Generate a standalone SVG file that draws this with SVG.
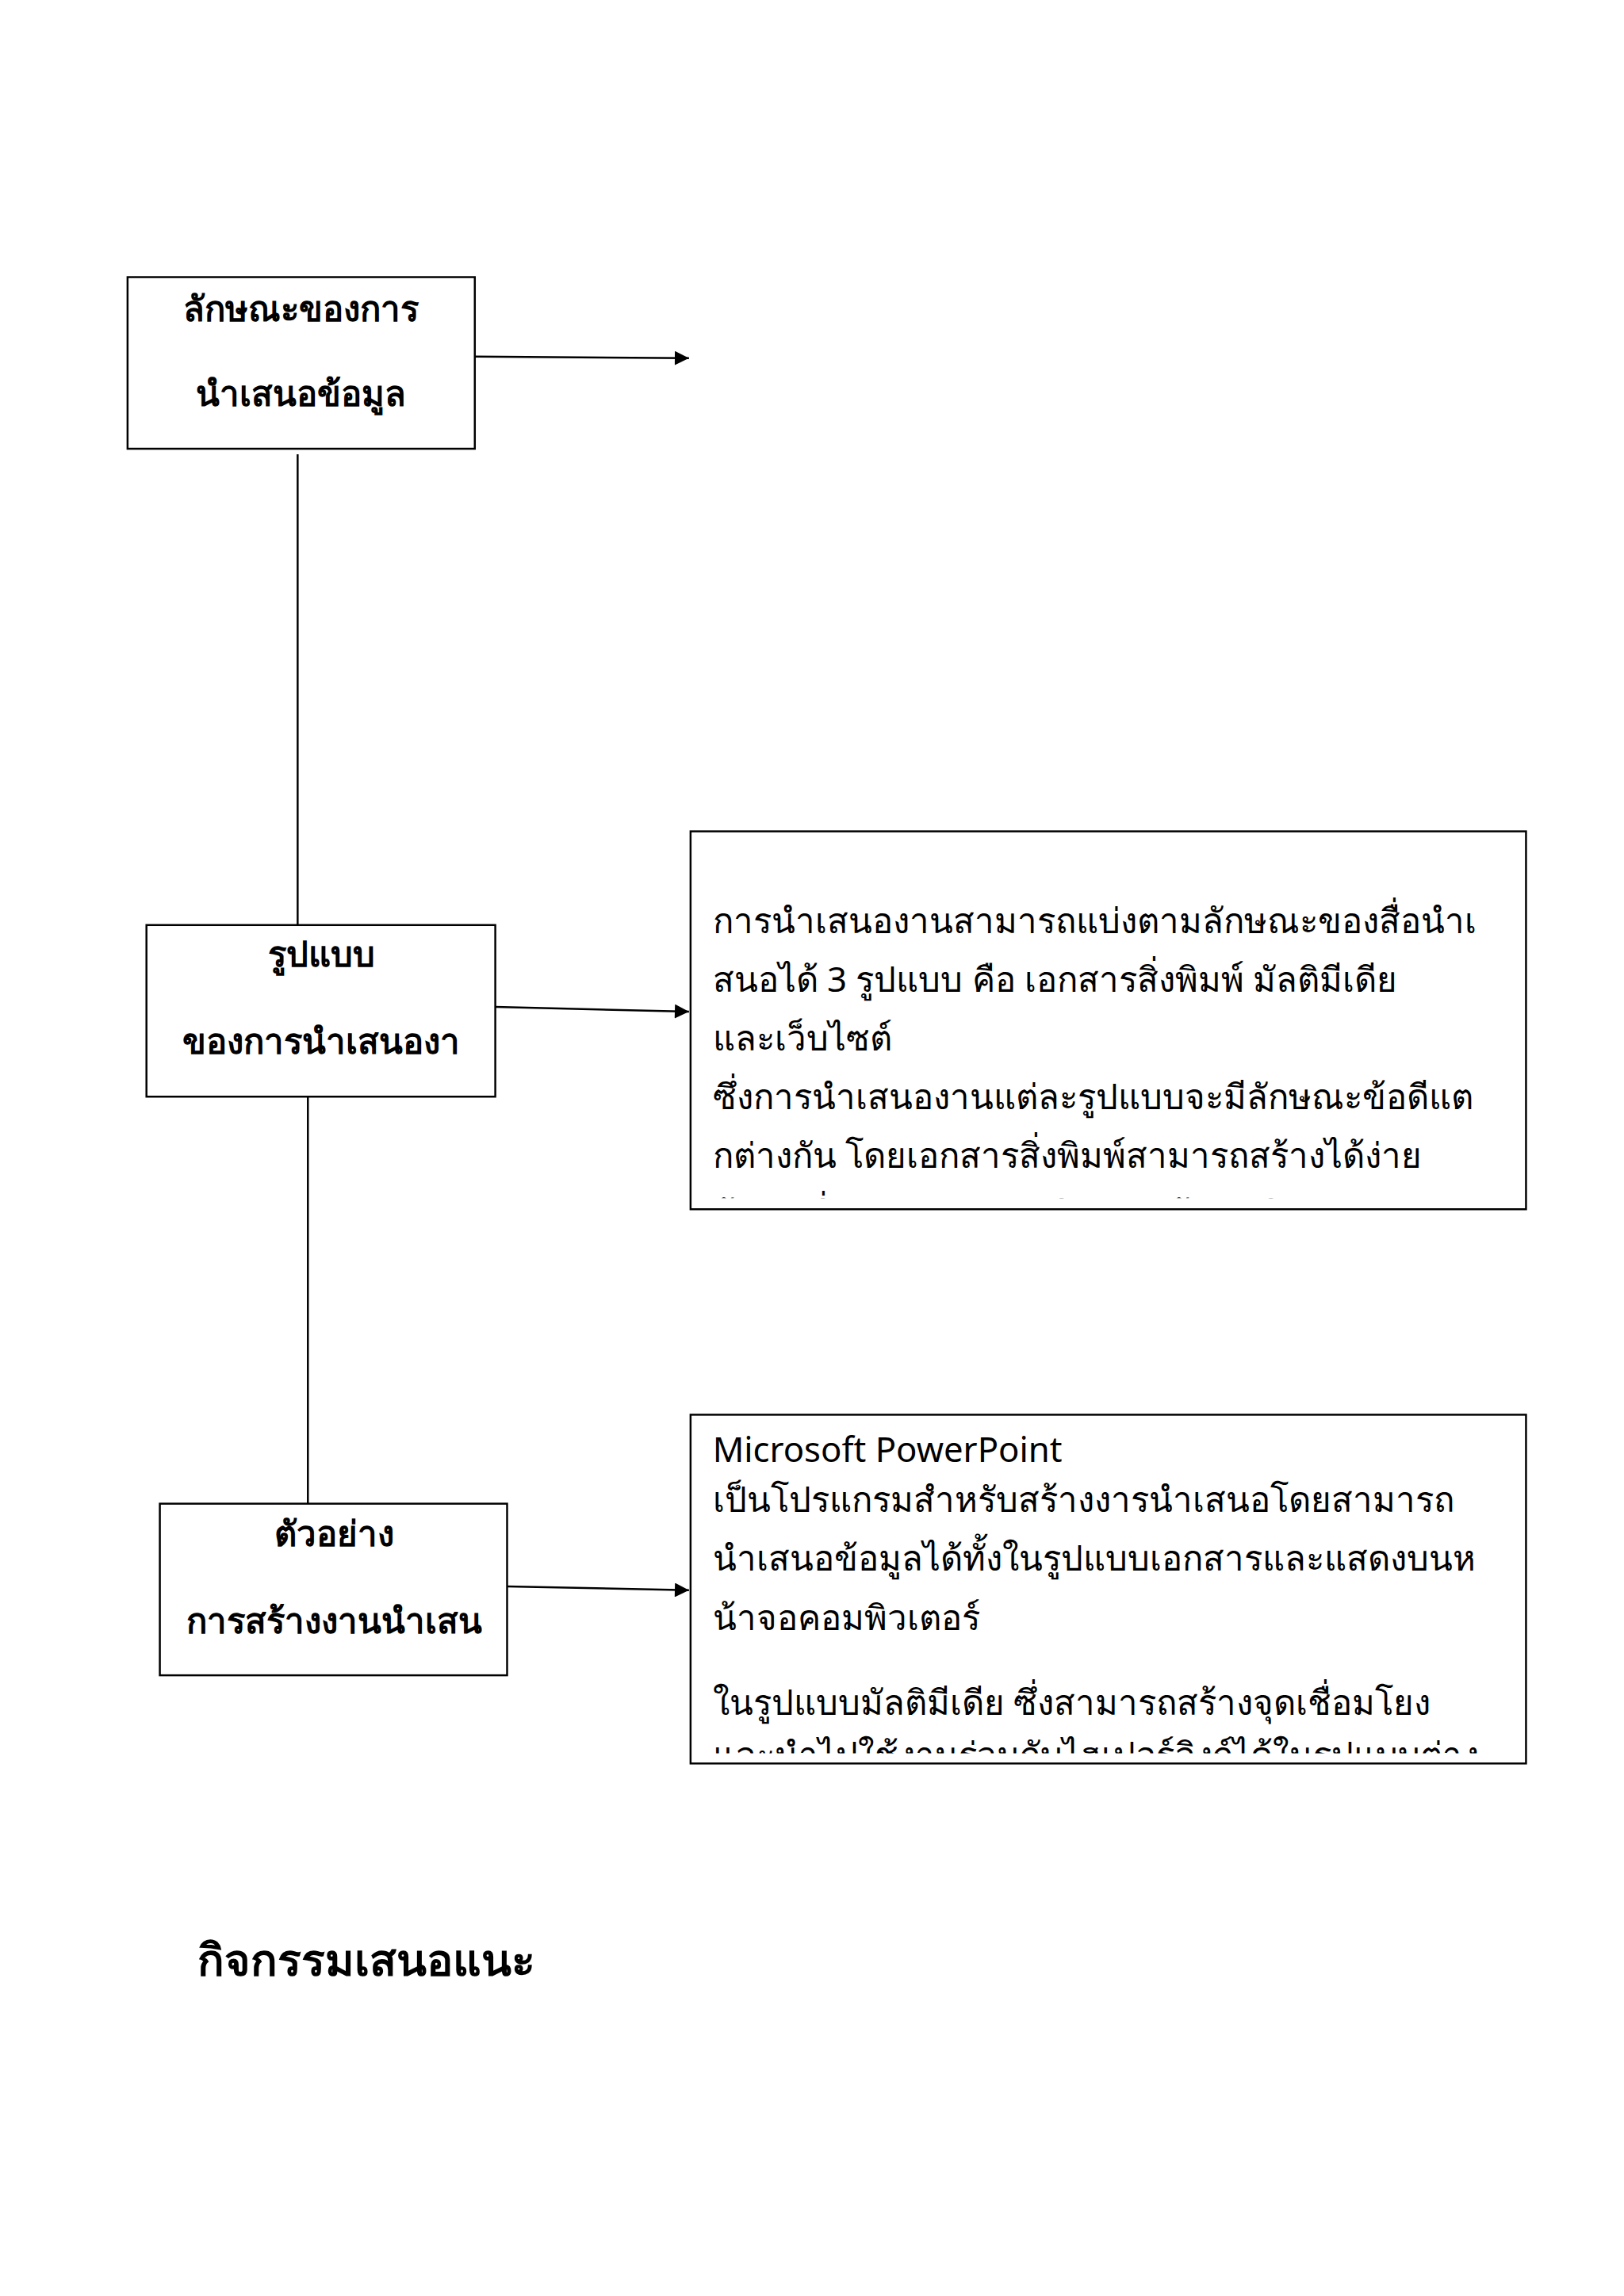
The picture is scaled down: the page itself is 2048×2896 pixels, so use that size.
<svg xmlns="http://www.w3.org/2000/svg" width="2048" height="2896" viewBox="0 0 2048 2896">
<style>
.box{fill:#fff;stroke:#000;stroke-width:2.5}
.ln{stroke:#000;stroke-width:2.5;fill:none}
.b{font-family:"Noto Sans","DejaVu Sans",sans-serif;font-weight:bold;font-size:44px;fill:#000;text-anchor:middle}
.t{font-family:"Noto Sans","DejaVu Sans",sans-serif;font-size:44px;fill:#000}
</style>
<defs>
<marker id="a" viewBox="0 0 10 10" markerWidth="22" markerHeight="18" refX="10" refY="5" orient="auto" markerUnits="userSpaceOnUse"><path d="M0,0 L10,5 L0,10 z"/></marker>
<clipPath id="c1"><rect x="877" y="1056" width="1061" height="466"/></clipPath>
<clipPath id="c2"><rect x="877" y="1797" width="1061" height="430"/></clipPath>
</defs>
<rect width="2048" height="2896" fill="#fff"/>
<g transform="scale(0.993)">
<g id="connectors">
<line class="ln" x1="378" y1="577" x2="378" y2="1175"/>
<line class="ln" x1="391" y1="1393" x2="391" y2="1910"/>
<line class="ln" x1="603" y1="453" x2="875" y2="455" marker-end="url(#a)"/>
<line class="ln" x1="629" y1="1279" x2="875" y2="1285" marker-end="url(#a)"/>
<line class="ln" x1="644" y1="2015" x2="875" y2="2020" marker-end="url(#a)"/>
</g>
<g id="n1"><rect class="box" x="162" y="352" width="441" height="218"/>
<text class="b" x="382" y="408">ลักษณะของการ</text><text class="b" x="382" y="516">นำเสนอข้อมูล</text></g>
<g id="n2"><rect class="box" x="186" y="1175" width="443" height="218"/>
<text class="b" x="408" y="1228">รูปแบบ</text><text class="b" x="408" y="1338">ของการนำเสนองา</text></g>
<g id="n3"><rect class="box" x="203" y="1910" width="441" height="218"/>
<text class="b" x="424" y="1964">ตัวอย่าง</text><text class="b" x="424" y="2075">การสร้างงานนำเสน</text></g>
<g id="n4"><rect class="box" x="877" y="1056" width="1061" height="480"/>
<g clip-path="url(#c1)">
<text class="t" x="905" y="1185">การนำเสนองานสามารถแบ่งตามลักษณะของสื่อนำเ</text>
<text class="t" x="905" y="1260">สนอได้ 3 รูปแบบ คือ เอกสารสิ่งพิมพ์ มัลติมีเดีย</text>
<text class="t" x="905" y="1334">และเว็บไซต์</text>
<text class="t" x="905" y="1409">ซึ่งการนำเสนองานแต่ละรูปแบบจะมีลักษณะข้อดีแต</text>
<text class="t" x="905" y="1483">กต่างกัน โดยเอกสารสิ่งพิมพ์สามารถสร้างได้ง่าย</text>
<text class="t" x="905" y="1558">ต้นทุนต่ำเหมาะกับการนำเสนอข้อมูลจำนวนมาก</text>
</g></g>
<g id="n5"><rect class="box" x="877" y="1797" width="1061" height="443"/>
<g clip-path="url(#c2)">
<text class="t" x="905" y="1857">Microsoft PowerPoint</text>
<text class="t" x="905" y="1920">เป็นโปรแกรมสำหรับสร้างงารนำเสนอโดยสามารถ</text>
<text class="t" x="905" y="1995">นำเสนอข้อมูลได้ทั้งในรูปแบบเอกสารและแสดงบนห</text>
<text class="t" x="905" y="2070">น้าจอคอมพิวเตอร์</text>
<text class="t" x="905" y="2178">ในรูปแบบมัลติมีเดีย ซึ่งสามารถสร้างจุดเชื่อมโยง</text>
<text class="t" x="905" y="2245">และนำไปใช้งานร่วมกับไฮเปอร์ลิงก์ได้ในรูปแบบต่าง</text>
</g></g>
<g id="n6"><text x="251" y="2510" style="font-family:'Noto Sans','DejaVu Sans',sans-serif;font-weight:bold;font-size:56px">กิจกรรมเสนอแนะ</text></g>
</g>
</svg>
